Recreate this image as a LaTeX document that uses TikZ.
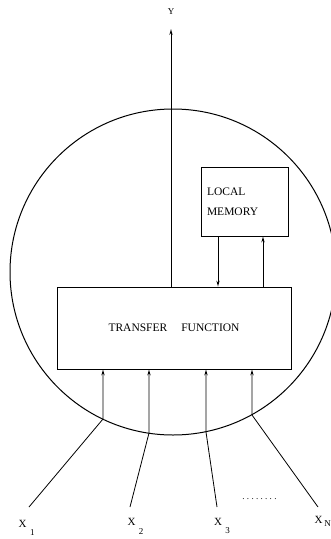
\documentclass[tikz,border=0pt]{standalone}
\usepackage{fontspec}
\setmainfont{Liberation Serif}
\usetikzlibrary{arrows.meta}
\begin{document}
\begin{tikzpicture}[x=1pt,y=-1pt,
  line width=0.8pt,
  >={Stealth[length=6pt,width=3.2pt,open]},
  blockbox/.style={draw,rectangle,inner sep=0pt,font=\fontsize{11.5}{13}\selectfont},
  sig/.style={font=\fontsize{11}{13}\selectfont,inner sep=0pt},
  sub/.style={font=\fontsize{9}{10}\selectfont,inner sep=0pt}]
\useasboundingbox (0,0) rectangle (331,539);

% neuron body
\begin{scope}
  \clip (0,0) rectangle (331,539);
  \draw[line width=1pt] (173,272) circle[radius=163];
\end{scope}

% blocks
\node[blockbox,minimum width=234,minimum height=82] (tf) at (174,328)
  {\raisebox{-6pt}{TRANSFER\hspace{14pt}FUNCTION}};
\node[blockbox,minimum width=87,minimum height=69,align=left,
      text width=75pt,font=\fontsize{11.5}{20}\selectfont] (mem) at (244.5,201.5)
  {LOCAL\\MEMORY};

% output
\coordinate (ytip) at (171,29);
\node[sig] (ylab) at (171,12) {\fontsize{9}{10}\selectfont Y};
\draw[->] (tf.north -| ytip) -- (ytip);

% memory exchange
\coordinate (md) at (218,0);
\coordinate (mu) at (263,0);
\draw[->] (mem.south -| md) -- (tf.north -| md);
\draw[->] (tf.north -| mu) -- (mem.south -| mu);

% inputs: free end, entry point on the body, arrow into the block
\coordinate (e1) at (29,507);  \coordinate (c1) at (103,419);
\coordinate (e2) at (130,507); \coordinate (c2) at (149,433);
\coordinate (e3) at (217,507); \coordinate (c3) at (206,432);
\coordinate (e4) at (318,507); \coordinate (c4) at (252,415);
\foreach \i in {1,2,3,4}{
  \draw[->] (e\i) -- (c\i) -- (c\i |- tf.south);
}

% input labels
\node[sig] (x1) at (22.5,524) {X};
\node[sub] (s1) at (32.5,533) {1};
\node[sig] (x2) at (131.5,522) {X};
\node[sub] (s2) at (141,532) {2};
\node[sig] (x3) at (218,522) {X};
\node[sub] (s3) at (227.5,531) {3};
\node[sig] (x4) at (318.5,520) {X};
\node[sub] (s4) at (327.5,524) {N};

% ellipsis between the last inputs
\node[inner sep=0pt,font=\fontsize{9}{10}\selectfont] (dots) at (259.5,499.5)
  {.\kern2.3pt.\kern2.3pt.\kern2.3pt.\kern2.3pt.\kern2.3pt.\kern2.3pt.\kern2.3pt.};
\end{tikzpicture}
\end{document}
